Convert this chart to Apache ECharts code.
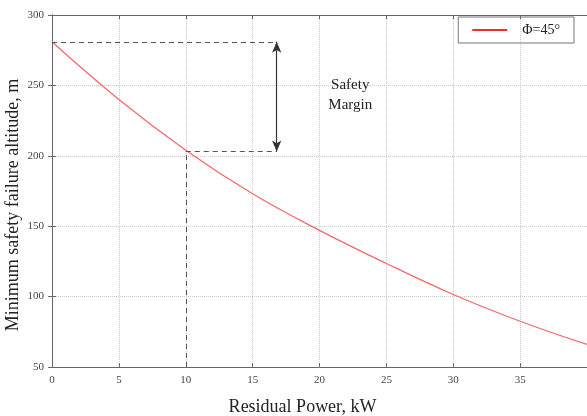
<!DOCTYPE html>
<html>
<head>
<meta charset="utf-8">
<script src="https://cdn.jsdelivr.net/npm/echarts@6/dist/echarts.min.js"></script>
<style>
  html, body { margin: 0; padding: 0; background: #fff; }
  #main { width: 587px; height: 416px; }
</style>
</head>
<body>
<div id="main"></div>
<script>
// residual power (kW) and minimum safety failure altitude (m)
const power = [0, 5, 10, 15, 20, 25, 30, 35, 40];
const altitude = [281, 240, 204, 173, 147, 123.5, 101.5, 82.5, 66];
const seriesName = 'Φ=45°';

// safety margin annotation (data coords)
const marginTop = 281;
const marginBottom = 203;
const marginX = 16.8;
const failPower = 10;
const marginText = ['Safety', 'Margin'];
const marginTextPos = [22.3, 243];

const font = 'Liberation Serif, Times New Roman, serif';
const axisColor = '#666';

let chart = echarts.init(document.getElementById('main'));

const dash = { color: '#555', type: [5, 4], width: 1 };

let option = {
  animation: false,
  grid: { left: 52, right: 0, top: 15, bottom: 49, outerBoundsMode: 'none', containLabel: false },
  legend: {
    data: [seriesName],
    right: 13,
    top: 17,
    padding: [6, 14, 6, 14],
    borderColor: '#777',
    borderWidth: 1,
    icon: 'rect',
    itemWidth: 35,
    itemHeight: 2,
    textStyle: { fontFamily: font, fontSize: 14, color: '#222', padding: [0, 0, 0, 10] }
  },
  xAxis: [
    {
      type: 'value', min: 0, max: 40, interval: 5,
      name: 'Residual Power, kW', nameLocation: 'middle', nameGap: 31,
      nameTextStyle: { fontFamily: font, fontSize: 18, color: '#222', padding: [0, 34, 0, 0] },
      axisLine: { lineStyle: { color: axisColor } },
      axisTick: { inside: true, length: 4, lineStyle: { color: axisColor } },
      axisLabel: {
        fontFamily: font, fontSize: 11, color: '#444', margin: 8,
        formatter: v => (v === 40 ? '' : v)
      },
      splitLine: { lineStyle: { color: '#ccc', type: 'dotted' } }
    },
    {
      type: 'value', min: 0, max: 40, interval: 5, position: 'top',
      axisLine: { show: true, lineStyle: { color: axisColor } },
      axisTick: { inside: true, length: 4, lineStyle: { color: axisColor } },
      axisLabel: { show: false },
      splitLine: { show: false }
    }
  ],
  yAxis: [
    {
      type: 'value', min: 50, max: 300, interval: 50,
      name: 'Minimum safety failure altitude, m', nameLocation: 'middle', nameGap: 30,
      nameMoveOverlap: false,
      nameTextStyle: { fontFamily: font, fontSize: 18, color: '#222', padding: [0, 28, 0, 0] },
      axisLine: { show: true, lineStyle: { color: axisColor } },
      axisTick: { show: true, inside: true, length: 4, lineStyle: { color: axisColor } },
      axisLabel: { fontFamily: font, fontSize: 11, color: '#444', margin: 8 },
      splitLine: { lineStyle: { color: '#ccc', type: 'dotted' } }
    },
    {
      type: 'value', min: 50, max: 300, interval: 50, position: 'right',
      axisLine: { show: true, lineStyle: { color: axisColor } },
      axisTick: { show: true, inside: true, length: 4, lineStyle: { color: axisColor } },
      axisLabel: { show: false },
      splitLine: { show: false }
    }
  ],
  series: [
    {
      name: seriesName,
      type: 'line',
      smooth: 0.4,
      showSymbol: false,
      data: power.map((p, i) => [p, altitude[i]]),
      lineStyle: { color: '#f26a6a', width: 1.3 },
      itemStyle: { color: '#f03030' },
      z: 3
    },
    {
      name: 'annotation',
      type: 'line',
      data: [],
      silent: true,
      markLine: {
        silent: true,
        animation: false,
        symbol: ['none', 'none'],
        label: { show: false },
        data: [
          [{ coord: [0, marginTop], lineStyle: dash }, { coord: [marginX, marginTop] }],
          [{ coord: [failPower, marginBottom], lineStyle: dash }, { coord: [marginX, marginBottom] }],
          [{ coord: [failPower, 50], lineStyle: dash }, { coord: [failPower, marginBottom] }],
          [
            { coord: [marginX, marginTop], symbol: 'arrow', symbolSize: [7, 11],
              lineStyle: { color: '#333', type: 'solid', width: 1.2 } },
            { coord: [marginX, marginBottom], symbol: 'arrow', symbolSize: [7, 11] }
          ]
        ]
      },
      markPoint: {
        silent: true,
        symbolSize: 0,
        data: [{
          coord: marginTextPos,
          label: {
            show: true,
            formatter: marginText.join('\n'),
            fontFamily: font, fontSize: 15, color: '#222', lineHeight: 20, align: 'center'
          }
        }]
      }
    }
  ]
};

option && chart.setOption(option);
</script>
</body>
</html>
